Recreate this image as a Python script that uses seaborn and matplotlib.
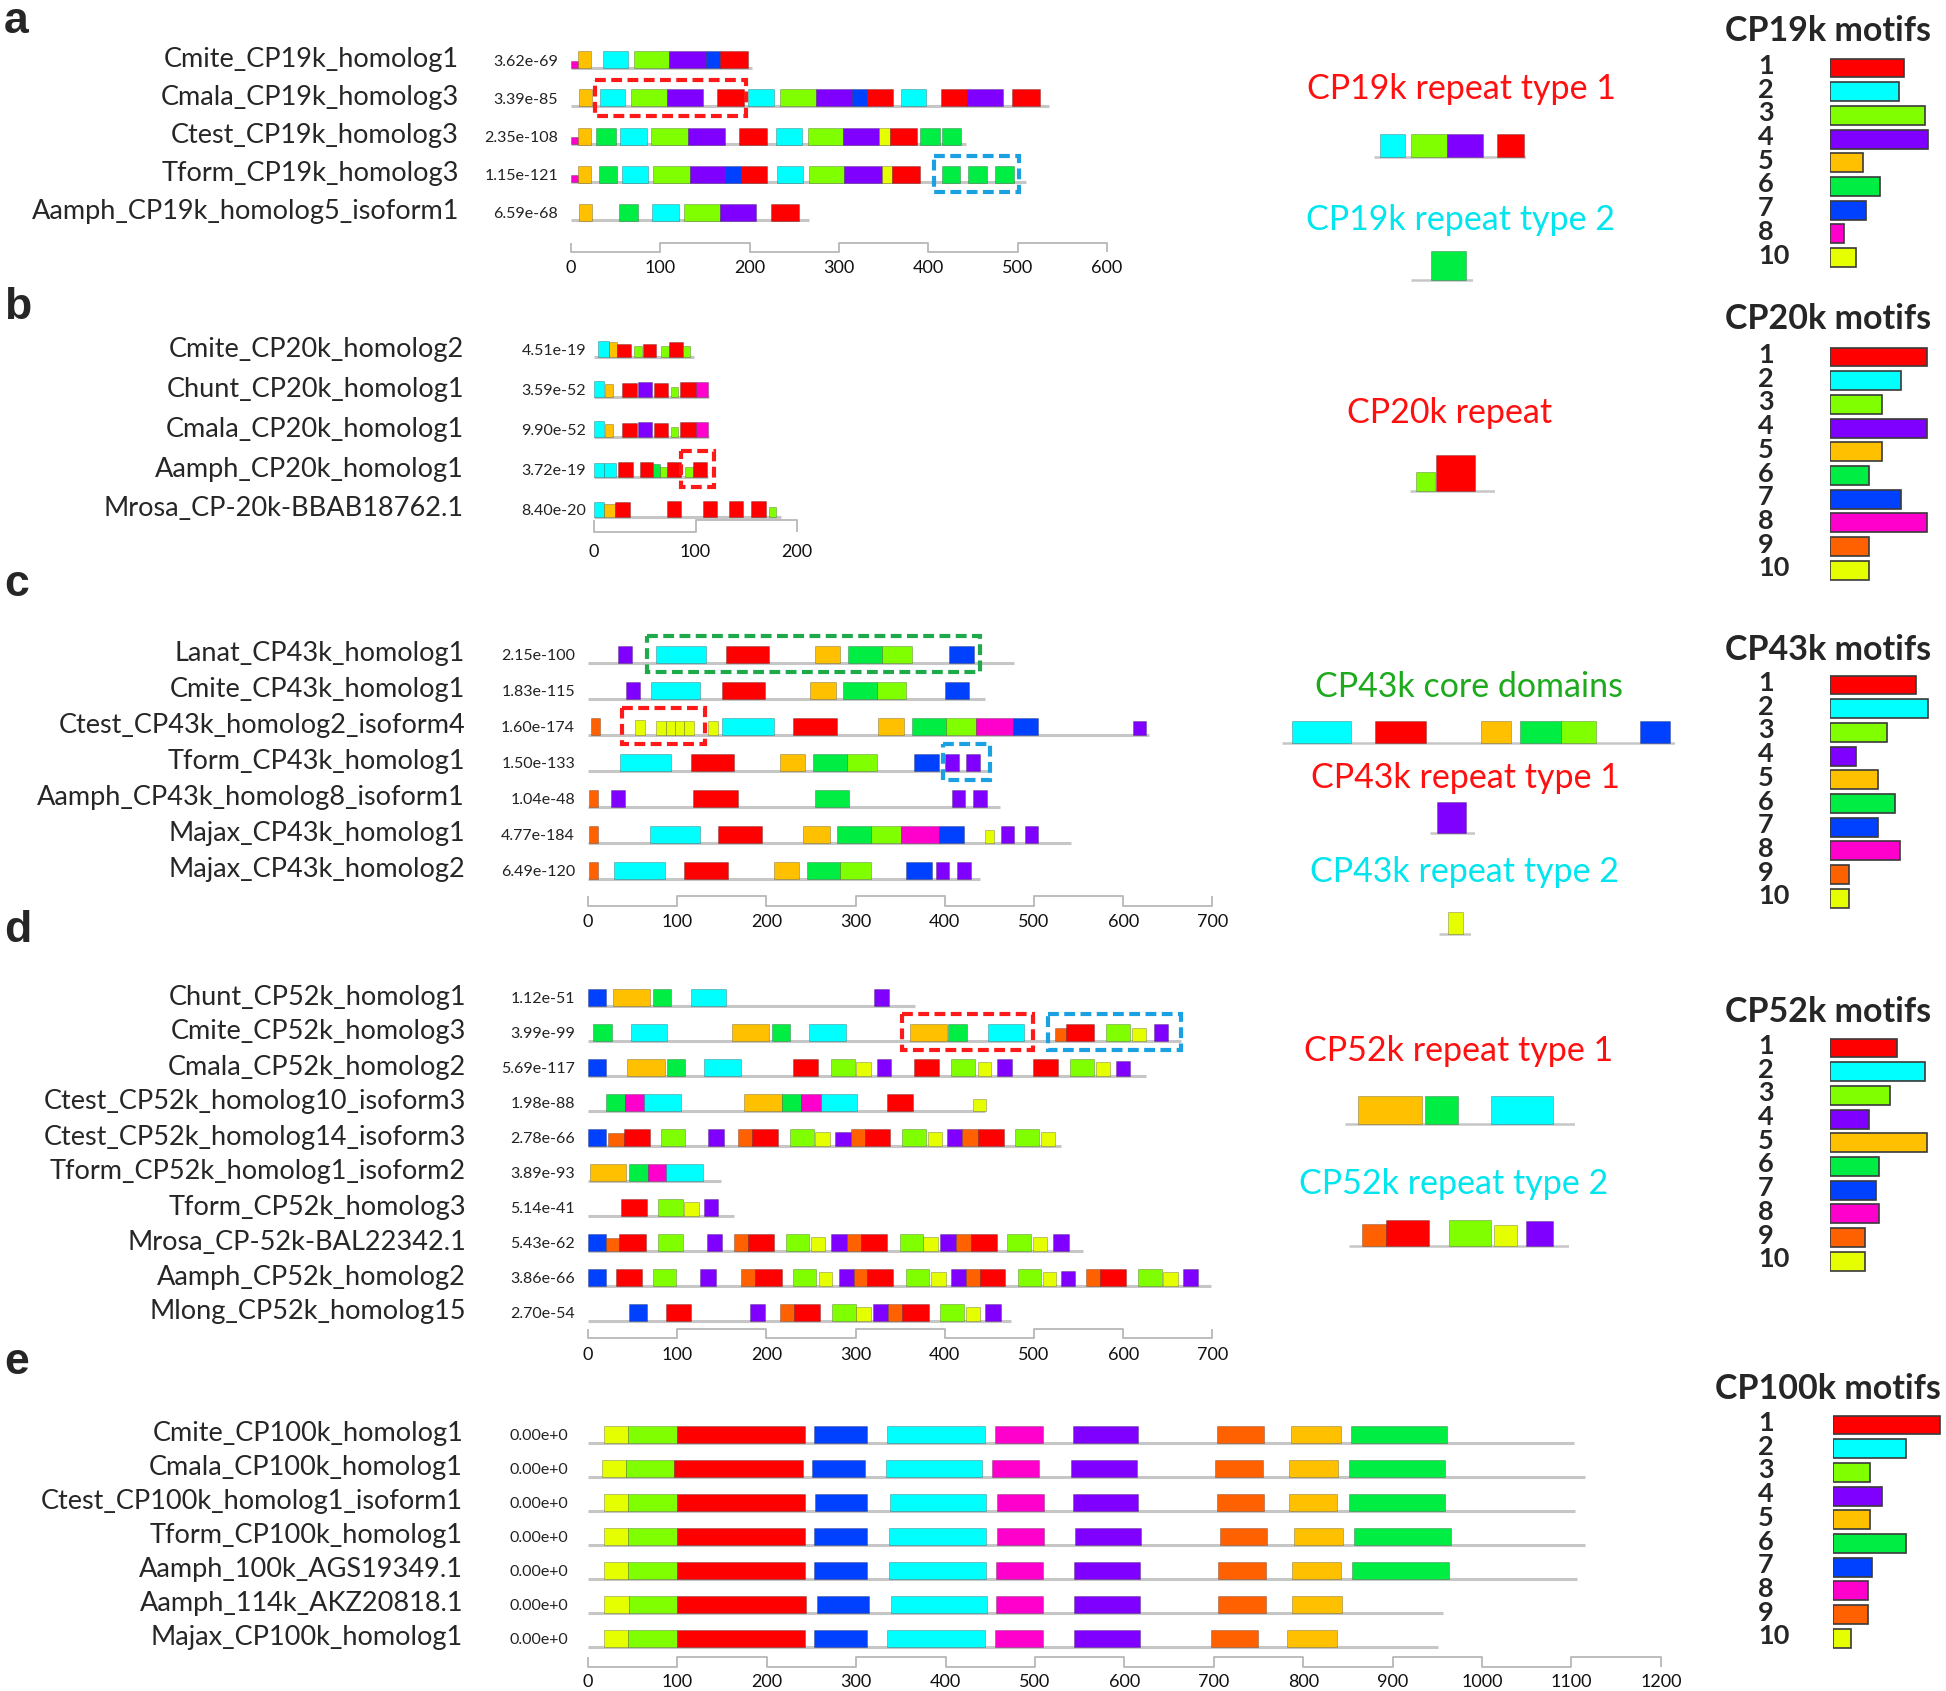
# %% Motif maps of barnacle cement protein families (CP19k, CP20k, CP43k, CP52k, CP100k)
import numpy as np
import pandas as pd
import matplotlib
matplotlib.use('Agg')
import matplotlib.pyplot as plt
from matplotlib.patches import Rectangle
import seaborn as sns

# %% Data
# motif positions are (motif id, start aa, end aa[, relative box height])

a_names = ['Cmite_CP19k_homolog1', 'Cmala_CP19k_homolog3', 'Ctest_CP19k_homolog3',
           'Tform_CP19k_homolog3', 'Aamph_CP19k_homolog5_isoform1']
a_evalues = ['3.62e-69', '3.39e-85', '2.35e-108', '1.15e-121', '6.59e-68']
a_lengths = [203, 535, 442, 510, 266]
a_motifs = [
    [(8, 0, 8, .45), (5, 8, 22), (2, 36, 64), (3, 71, 110), (4, 110, 151), (7, 151, 167), (1, 167, 198)],
    [(5, 9, 23), (2, 32, 60), (3, 67, 107), (4, 107, 148), (1, 163, 194), (2, 198, 227), (3, 234, 274),
     (4, 274, 315), (7, 315, 331), (1, 331, 361), (2, 369, 398), (1, 414, 444), (4, 444, 484), (1, 494, 525)],
    [(8, 0, 8, .45), (5, 8, 22), (6, 28, 50), (2, 55, 85), (3, 90, 131), (4, 131, 172), (1, 188, 219),
     (2, 230, 259), (3, 265, 305), (4, 305, 345), (10, 345, 357), (1, 357, 388), (6, 391, 413), (6, 415, 437)],
    [(8, 0, 8, .45), (5, 8, 22), (6, 31, 52), (2, 57, 86), (3, 92, 133), (4, 133, 173), (7, 173, 190),
     (1, 190, 220), (2, 231, 260), (3, 266, 306), (4, 306, 348), (10, 348, 360), (1, 360, 391),
     (6, 415, 436), (6, 445, 466), (6, 475, 496)],
    [(5, 9, 23), (6, 54, 75), (2, 91, 121), (3, 127, 167), (4, 167, 207), (1, 224, 255)],
]
a_boxes = [(1, 27, 196, 'red'), (3, 407, 502, 'blue')]

b_names = ['Cmite_CP20k_homolog2', 'Chunt_CP20k_homolog1', 'Cmala_CP20k_homolog1',
           'Aamph_CP20k_homolog1', 'Mrosa_CP-20k-BBAB18762.1']
b_evalues = ['4.51e-19', '3.59e-52', '9.90e-52', '3.72e-19', '8.40e-20']
b_lengths = [99, 113, 113, 112, 184]
b_motifs = [
    [(2, 4, 15), (5, 15, 23, .94), (1, 23, 36, .8), (3, 39, 47, .66), (1, 48, 61, .8), (3, 66, 74, .7),
     (1, 74, 88, .96), (3, 88, 95, .66)],
    [(2, 0, 10), (5, 11, 19, .8), (1, 28, 42, .9), (4, 43, 57, .95), (1, 59, 73, .9), (3, 76, 83, .65),
     (1, 85, 100, .95), (8, 100, 112, .95)],
    [(2, 0, 10), (5, 11, 19, .8), (1, 28, 42, .9), (4, 43, 57, .95), (1, 59, 73, .9), (3, 76, 83, .65),
     (1, 85, 100, .95), (8, 100, 112, .95)],
    [(2, 0, 10, .9), (2, 10, 22, .9), (1, 24, 38, .95), (1, 45, 58, .95), (6, 58, 65, .8), (3, 65, 72, .6),
     (1, 72, 86, .95), (3, 90, 98, .6), (1, 98, 111, .95)],
    [(2, 0, 10, .95), (5, 10, 21, .8), (1, 21, 35, .95), (1, 72, 86), (1, 107, 121), (1, 133, 147),
     (1, 155, 169), (3, 172, 179, .6)],
]
b_boxes = [(3, 86, 118, 'red')]

c_names = ['Lanat_CP43k_homolog1', 'Cmite_CP43k_homolog1', 'Ctest_CP43k_homolog2_isoform4',
           'Tform_CP43k_homolog1', 'Aamph_CP43k_homolog8_isoform1', 'Majax_CP43k_homolog1',
           'Majax_CP43k_homolog2']
c_evalues = ['2.15e-100', '1.83e-115', '1.60e-174', '1.50e-133', '1.04e-48', '4.77e-184', '6.49e-120']
c_lengths = [478, 445, 629, 449, 462, 542, 439]
c_motifs = [
    [(4, 34, 49), (2, 76, 132), (1, 155, 203), (5, 255, 283), (6, 292, 330), (3, 330, 363), (7, 405, 433)],
    [(4, 43, 58), (2, 71, 126), (1, 150, 198), (5, 249, 278), (6, 286, 324), (3, 324, 357), (7, 400, 427)],
    [(9, 3, 13), (10, 53, 64, .85), (10, 76, 87, .8), (10, 87, 97, .8), (10, 97, 108, .8), (10, 108, 119, .8),
     (10, 134, 146, .8), (2, 150, 208), (1, 230, 279), (5, 325, 354), (6, 363, 401), (3, 401, 435),
     (8, 435, 477), (7, 477, 505), (4, 611, 626, .8)],
    [(2, 36, 93), (1, 116, 164), (5, 215, 243), (6, 252, 290), (3, 290, 324), (7, 365, 393), (4, 400, 416),
     (4, 424, 439)],
    [(9, 1, 11), (4, 26, 41), (1, 118, 168), (6, 255, 293), (4, 408, 423), (4, 432, 447)],
    [(9, 1, 11), (2, 69, 126), (1, 146, 195), (5, 241, 271), (6, 279, 317), (3, 317, 351), (8, 351, 393),
     (7, 393, 422), (10, 445, 455, .75), (4, 463, 478), (4, 490, 505)],
    [(9, 1, 11), (2, 29, 86), (1, 108, 157), (5, 208, 236), (6, 245, 283), (3, 283, 317), (7, 356, 386),
     (4, 390, 405), (4, 414, 429)],
]
c_boxes = [(0, 66, 439, 'green'), (2, 38, 131, 'red'), (3, 398, 451, 'blue')]

d_names = ['Chunt_CP52k_homolog1', 'Cmite_CP52k_homolog3', 'Cmala_CP52k_homolog2',
           'Ctest_CP52k_homolog10_isoform3', 'Ctest_CP52k_homolog14_isoform3', 'Tform_CP52k_homolog1_isoform2',
           'Tform_CP52k_homolog3', 'Mrosa_CP-52k-BAL22342.1', 'Aamph_CP52k_homolog2', 'Mlong_CP52k_homolog15']
d_evalues = ['1.12e-51', '3.99e-99', '5.69e-117', '1.98e-88', '2.78e-66', '3.89e-93', '5.14e-41',
             '5.43e-62', '3.86e-66', '2.70e-54']
d_lengths = [367, 665, 625, 445, 530, 149, 164, 555, 698, 474]
d_motifs = [
    [(7, 0, 20), (5, 28, 70), (6, 73, 93), (2, 115, 155), (4, 321, 337)],
    [(6, 6, 27), (2, 48, 89), (5, 161, 203), (6, 206, 226), (2, 248, 289), (5, 361, 402), (6, 404, 425),
     (2, 448, 489), (9, 523, 536, .75), (1, 536, 567), (3, 581, 608), (10, 610, 626, .75), (4, 634, 650)],
    [(7, 0, 20), (5, 44, 86), (6, 89, 109), (2, 130, 171), (1, 230, 258), (3, 272, 299), (10, 301, 317, .8),
     (4, 324, 340), (1, 366, 394), (3, 407, 434), (10, 437, 452, .8), (4, 459, 475), (1, 499, 527),
     (3, 540, 567), (10, 570, 585, .8), (4, 592, 608, .85)],
    [(6, 20, 42), (8, 42, 63), (2, 63, 104), (5, 175, 217), (6, 218, 239), (8, 239, 261), (2, 261, 302),
     (1, 335, 364), (10, 432, 446, .7)],
    [(7, 0, 20), (9, 22, 40, .75), (1, 40, 70), (3, 82, 109), (4, 135, 153), (9, 168, 184), (1, 184, 213),
     (3, 226, 253), (10, 255, 271, .8), (4, 277, 295, .8), (9, 295, 310), (1, 310, 339), (3, 352, 379),
     (10, 381, 397, .8), (4, 403, 419), (9, 419, 437), (1, 437, 466), (3, 479, 506), (10, 508, 524, .8)],
    [(5, 2, 43), (6, 46, 67), (8, 67, 88), (2, 88, 129)],
    [(1, 37, 66), (3, 79, 106), (10, 108, 124, .8), (4, 130, 146)],
    [(7, 0, 20), (9, 20, 35, .75), (1, 35, 65), (3, 79, 106), (4, 133, 150), (9, 164, 179), (1, 179, 209),
     (3, 222, 248), (10, 250, 266, .8), (4, 272, 290), (9, 290, 306), (1, 306, 335), (3, 350, 376),
     (10, 376, 392, .8), (4, 395, 413), (9, 413, 429), (1, 429, 458), (3, 470, 497), (10, 499, 515, .8),
     (4, 521, 539)],
    [(7, 0, 20), (1, 31, 60), (3, 73, 99), (4, 126, 143), (9, 171, 187), (1, 187, 217), (3, 230, 256),
     (10, 259, 274, .8), (4, 281, 298), (9, 298, 313), (1, 313, 342), (3, 356, 382), (10, 385, 401, .8),
     (4, 407, 424), (9, 424, 439), (1, 439, 468), (3, 482, 508), (10, 510, 525, .8), (4, 530, 546, .85),
     (9, 558, 574), (1, 574, 603), (3, 617, 643), (10, 645, 661, .8), (4, 667, 684)],
    [(7, 46, 66), (1, 87, 116), (4, 182, 198), (9, 215, 231), (1, 231, 260), (3, 274, 301), (10, 301, 317, .8),
     (4, 319, 336), (9, 336, 352), (1, 352, 382), (3, 395, 421), (10, 424, 439, .8), (4, 445, 463)],
]
d_boxes = [(1, 352, 499, 'red'), (1, 516, 665, 'blue')]

e_names = ['Cmite_CP100k_homolog1', 'Cmala_CP100k_homolog1', 'Ctest_CP100k_homolog1_isoform1',
           'Tform_CP100k_homolog1', 'Aamph_100k_AGS19349.1', 'Aamph_114k_AKZ20818.1', 'Majax_CP100k_homolog1']
e_evalues = ['0.00e+0'] * 7
e_lengths = [1103, 1115, 1104, 1115, 1106, 956, 951]
e_motifs = [
    [(10, 18, 45), (3, 45, 99), (1, 99, 243), (7, 253, 312), (2, 335, 444), (8, 455, 509), (4, 542, 615),
     (9, 704, 756), (5, 786, 842), (6, 854, 961)],
    [(10, 16, 42), (3, 42, 96), (1, 96, 241), (7, 250, 310), (2, 333, 441), (8, 452, 505), (4, 540, 614),
     (9, 701, 755), (5, 784, 839), (6, 851, 959)],
    [(10, 18, 45), (3, 45, 99), (1, 99, 243), (7, 254, 312), (2, 338, 445), (8, 457, 510), (4, 542, 615),
     (9, 704, 756), (5, 784, 838), (6, 851, 959)],
    [(10, 18, 45), (3, 45, 99), (1, 99, 243), (7, 253, 312), (2, 337, 445), (8, 457, 510), (4, 545, 619),
     (9, 707, 759), (5, 790, 845), (6, 857, 965)],
    [(10, 18, 45), (3, 45, 99), (1, 99, 243), (7, 253, 312), (2, 337, 445), (8, 456, 509), (4, 544, 618),
     (9, 705, 758), (5, 787, 842), (6, 855, 963)],
    [(10, 18, 46), (3, 46, 100), (1, 100, 244), (7, 256, 314), (2, 339, 446), (8, 456, 509), (4, 544, 618),
     (9, 705, 758), (5, 787, 843)],
    [(10, 18, 45), (3, 45, 99), (1, 99, 243), (7, 253, 312), (2, 335, 444), (8, 455, 509), (4, 544, 618),
     (9, 697, 749), (5, 782, 838)],
]

# repeat units shown next to the panels (span = stretch of sequence drawn)
rep19_1 = [(2, 32, 60), (3, 67, 107), (4, 107, 148), (1, 163, 194)]
rep19_1_span = (25, 196)
rep19_2 = [(6, 415, 436)]
rep19_2_span = (403, 440)
rep20 = [(3, 88, 95, .53), (1, 95, 109)]
rep20_span = (86, 116)
rep43_core = [(2, 76, 132), (1, 155, 203), (5, 255, 283), (6, 292, 330), (3, 330, 363), (7, 405, 433)]
rep43_core_span = (67, 438)
rep43_1 = [(4, 400, 416)]
rep43_1_span = (396, 421)
rep43_2 = [(10, 134, 146)]
rep43_2_span = (126, 153)
rep52_1 = [(5, 360, 401), (6, 403, 424), (2, 445, 485)]
rep52_1_span = (352, 499)
rep52_2 = [(9, 525, 541, .85), (1, 541, 570), (3, 584, 612), (10, 614, 630, .8), (4, 636, 654, .96)]
rep52_2_span = (516, 665)

# motif widths per family (legend bars)
leg19_ids = [1, 2, 3, 4, 5, 6, 7, 8, 10]
leg19_widths = [31, 29, 40, 41, 14, 21, 15, 6, 11]
leg20_ids = [1, 2, 3, 4, 5, 6, 7, 8, 9, 10]
leg20_widths = [15, 11, 8, 15, 8, 6, 11, 15, 6, 6]
leg43_ids = [1, 2, 3, 4, 5, 6, 7, 8, 9, 10]
leg43_widths = [50, 57, 33, 15, 28, 38, 28, 41, 11, 11]
leg52_ids = [1, 2, 3, 4, 5, 6, 7, 8, 9, 10]
leg52_widths = [29, 41, 26, 17, 42, 21, 20, 21, 15, 15]
leg100_ids = [1, 2, 3, 4, 5, 6, 7, 8, 9, 10]
leg100_widths = [144, 98, 50, 66, 50, 98, 52, 47, 47, 24]

motif_colors = {1: '#FF0000', 2: '#00FFFF', 3: '#80FF00', 4: '#8000FF', 5: '#FFC000',
                6: '#00EE44', 7: '#0040FF', 8: '#FF00CC', 9: '#FF6000', 10: '#E6FF00'}
dash_colors = {'red': '#FF1A1A', 'blue': '#1BA1E2', 'green': '#1EAA4B'}

# %% Figure setup
sns.set_theme(style='white')
plt.rcParams['font.family'] = ['Lato', 'DejaVu Sans']

W, H = 1946, 1691
fig = plt.figure(figsize=(W / 100, H / 100), dpi=100)
canvas = fig.add_axes([0, 0, 1, 1])
canvas.set_xlim(0, W)
canvas.set_ylim(H, 0)
canvas.axis('off')

LINE_GRAY = '#c6c6c6'


def px_axes(left, top, right, bottom):
    ax = fig.add_axes([left / W, 1 - bottom / H, (right - left) / W, (bottom - top) / H])
    ax.set_facecolor('none')
    ax.axis('off')
    return ax


def draw_track(ax, motifs, line_y, box_h, start, end, lw=2.2):
    ax.hlines(line_y, start, end, color=LINE_GRAY, lw=lw, zorder=1)
    for m in motifs:
        rel = m[3] if len(m) > 3 else 1.0
        hgt = box_h * rel
        ax.bar(m[1], hgt, width=m[2] - m[1], bottom=line_y - hgt, align='edge',
               color=motif_colors[m[0]], edgecolor=(0, 0, 0, 0.28), linewidth=0.6, zorder=2)


def draw_panel(letter, letter_y, names, evalues, lengths, motifs, boxes, row0, step, px0, scale,
               xmax, ruler_top, ruler_bot, label_y, name_x, eval_x, box_h=17):
    # letter_y is the baseline of the panel letter
    canvas.text(4, letter_y, letter, fontsize=32, fontweight='bold', family=['Liberation Sans'],
                ha='left', va='baseline')
    top, bottom = row0 - 40, label_y + 15
    ax = px_axes(px0, top, px0 + xmax * scale, bottom)
    ax.set_xlim(0, xmax)
    ax.set_ylim(bottom, top)
    rows = [row0 + i * step for i in range(len(names))]
    for y, name, ev, length, mot in zip(rows, names, evalues, lengths, motifs):
        canvas.text(name_x, y, name, fontsize=19.5, ha='right', va='center')
        canvas.text(eval_x, y + 2, ev, fontsize=11.5, ha='right', va='center', color='#222222')
        draw_track(ax, mot, y + box_h / 2, box_h, 0, length)
    for r, x0, x1, col in boxes:
        ax.add_patch(Rectangle((x0, rows[r] - 18), x1 - x0, 36, fill=False, lw=3,
                               edgecolor=dash_colors[col], linestyle=(0, (2.6, 1.3)),
                               clip_on=False, zorder=3))
    # scale ruler
    ticks = np.arange(0, xmax + 1, 100)
    for k in range(len(ticks) - 1):
        yy = ruler_bot if k % 2 == 0 else ruler_top
        ax.plot([ticks[k], ticks[k + 1]], [yy, yy], color='#b8b8b8', lw=1.3, clip_on=False)
    ax.vlines(ticks, ruler_top, ruler_bot, color='#b8b8b8', lw=1.3, clip_on=False)
    for t in ticks:
        ax.text(t, label_y, f'{t}', ha='center', va='center', fontsize=13, color='#111111')


def draw_repeat(title, color, tx, ty, motifs, span, left, right, line_y, box_h):
    canvas.text(tx, ty, title, color=color, fontsize=24.5, ha='center', va='center')
    ax = px_axes(left, line_y - box_h - 5, right, line_y + 5)
    ax.set_xlim(*span)
    ax.set_ylim(line_y + 5, line_y - box_h - 5)
    draw_track(ax, motifs, line_y, box_h, span[0], span[1], lw=1.8)


def draw_legend(title, title_y, ids, widths, first_y, bar_left, max_px):
    canvas.text(1828, title_y, title, fontsize=24.5, fontweight='bold', ha='center', va='center')
    n = len(ids)
    step = 23.7
    ax = px_axes(bar_left, first_y - step / 2, bar_left + 115, first_y + (n - 0.5) * step)
    df = pd.DataFrame({'motif': [str(i) for i in ids], 'width': widths})
    sns.barplot(data=df, x='width', y='motif', hue='motif', orient='h', width=0.8, saturation=1,
                palette=[motif_colors[i] for i in ids], edgecolor='#3a3a3a', linewidth=1.2,
                legend=False, ax=ax)
    ax.set_xlim(0, 115 * max(widths) / max_px)
    ax.set_ylim(n - 0.5, -0.5)
    ax.axis('off')
    for i, lab in enumerate(ids):
        canvas.text(1758, first_y + i * step - 2, str(lab), fontsize=19.5, fontweight='bold',
                    ha='left', va='center')


# %% Panels
draw_panel('a', 33, a_names, a_evalues, a_lengths, a_motifs, a_boxes, 60, 38, 571, 0.893, 600,
           243, 252, 268, 459, 558)
draw_panel('b', 319, b_names, b_evalues, b_lengths, b_motifs, b_boxes, 349, 40, 594, 1.015, 200,
           520, 532, 552, 464, 586, box_h=16)
draw_panel('c', 596, c_names, c_evalues, c_lengths, c_motifs, c_boxes, 654, 36, 588, 0.892, 700,
           896, 906, 922, 465, 575)
draw_panel('d', 942, d_names, d_evalues, d_lengths, d_motifs, d_boxes, 997, 35, 588, 0.892, 700,
           1329, 1338, 1355, 466, 575)
draw_panel('e', 1374, e_names, e_evalues, e_lengths, e_motifs, [], 1434, 34, 588, 0.894, 1200,
           1657, 1667, 1682, 463, 568)

# %% Repeat units
RED, CYAN, GREEN = '#FF1010', '#00E5EE', '#1DAA1D'
draw_repeat('CP19k repeat type 1', RED, 1461, 89, rep19_1, rep19_1_span, 1374, 1526, 157, 23)
draw_repeat('CP19k repeat type 2', CYAN, 1461, 220, rep19_2, rep19_2_span, 1411, 1473, 280, 29)
draw_repeat('CP20k repeat', RED, 1450, 413, rep20, rep20_span, 1410, 1495, 491, 36)
draw_repeat('CP43k core domains', GREEN, 1469, 687, rep43_core, rep43_core_span, 1282, 1675, 743, 22)
draw_repeat('CP43k repeat type 1', RED, 1465, 778, rep43_1, rep43_1_span, 1430, 1475, 833, 31)
draw_repeat('CP43k repeat type 2', CYAN, 1465, 872, rep43_2, rep43_2_span, 1439, 1471, 934, 22)
draw_repeat('CP52k repeat type 1', RED, 1459, 1051, rep52_1, rep52_1_span, 1345, 1575, 1124, 28)
draw_repeat('CP52k repeat type 2', CYAN, 1454, 1184, rep52_2, rep52_2_span, 1349, 1569, 1246, 26)

# %% Motif legends
draw_legend('CP19k motifs', 31, leg19_ids, leg19_widths, 68, 1830, 97.5)
draw_legend('CP20k motifs', 319, leg20_ids, leg20_widths, 357, 1830, 97)
draw_legend('CP43k motifs', 650, leg43_ids, leg43_widths, 685, 1830, 97.7)
draw_legend('CP52k motifs', 1012, leg52_ids, leg52_widths, 1048, 1830, 97)
draw_legend('CP100k motifs', 1389, leg100_ids, leg100_widths, 1425, 1833, 107)

fig.savefig('out.png', dpi=100)
